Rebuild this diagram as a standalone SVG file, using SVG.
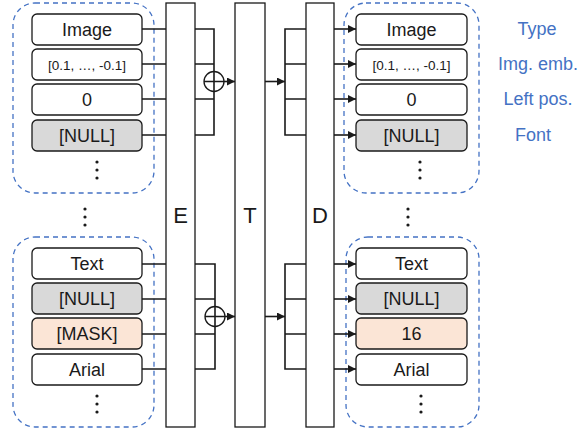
<svg xmlns="http://www.w3.org/2000/svg" width="588" height="431" viewBox="0 0 588 431">
<style>
.bx{stroke:#1a1a1a;stroke-width:1.3;fill:#fff}
.g{fill:#d9d9d9}
.p{fill:#fbe5d6}
.cont{fill:none;stroke:#4472c4;stroke-width:1.3;stroke-dasharray:5 4}
.blk{fill:#fff;stroke:#1a1a1a;stroke-width:1.3}
.ln{fill:none;stroke:#1a1a1a;stroke-width:1.6}
.t{font-family:"Liberation Sans",Arial,sans-serif;font-size:18px;fill:#1a1a1a;text-anchor:middle}
.s{font-size:13.5px}
.big{font-size:22px}
.lab{font-family:"Liberation Sans",Arial,sans-serif;font-size:18px;fill:#4472c4;text-anchor:middle}
.dot{fill:#1a1a1a}
</style>
<defs>
<marker id="ah" viewBox="0 0 10 10" refX="10" refY="5" markerWidth="8" markerHeight="8" markerUnits="userSpaceOnUse" orient="auto">
<path d="M0,0 L10,5 L0,10 z" fill="#1a1a1a"/>
</marker>
<g id="vd"><circle cx="0" cy="0" r="1.6"/><circle cx="0" cy="8" r="1.6"/><circle cx="0" cy="16" r="1.6"/></g>
</defs>

<g id="containers">
<rect class="cont" x="13" y="3" width="141" height="190" rx="22"/>
<rect class="cont" x="13" y="237" width="141" height="190" rx="22"/>
<rect class="cont" x="344" y="3" width="135" height="190" rx="22"/>
<rect class="cont" x="346" y="237" width="133" height="190" rx="22"/>
</g>

<g id="connectors">
<path class="ln" d="M142,29H166M142,64H166M142,99H166M142,135H166"/>
<path class="ln" d="M195,29H214V135H195M195,64H214M195,99H214"/>
<path class="ln" d="M224,81.5H235" marker-end="url(#ah)"/>
<path class="ln" d="M265,81.5H285" marker-end="url(#ah)"/>
<path class="ln" d="M306,29H285V135H306M285,64H306M285,99H306"/>
<path class="ln" d="M334,29H356" marker-end="url(#ah)"/>
<path class="ln" d="M334,64H356" marker-end="url(#ah)"/>
<path class="ln" d="M334,99H356" marker-end="url(#ah)"/>
<path class="ln" d="M334,135H356" marker-end="url(#ah)"/>
<path class="ln" d="M142,264H166M142,299H166M142,334H166M142,369H166"/>
<path class="ln" d="M195,264H215V369H195M195,299H215M195,334H215"/>
<path class="ln" d="M225,316.5H235" marker-end="url(#ah)"/>
<path class="ln" d="M265,316.5H285" marker-end="url(#ah)"/>
<path class="ln" d="M306,264H285V369H306M285,299H306M285,334H306"/>
<path class="ln" d="M334,264H356" marker-end="url(#ah)"/>
<path class="ln" d="M334,299H356" marker-end="url(#ah)"/>
<path class="ln" d="M334,334H356" marker-end="url(#ah)"/>
<path class="ln" d="M334,369H356" marker-end="url(#ah)"/>
</g>

<g id="E"><rect class="blk" x="166" y="3" width="29" height="424"/><text class="t big" x="180.5" y="223">E</text></g>
<g id="T"><rect class="blk" x="235" y="3" width="30" height="424"/><text class="t big" x="250" y="223">T</text></g>
<g id="D"><rect class="blk" x="306" y="3" width="28" height="424"/><text class="t big" x="320" y="223">D</text></g>

<g id="plus1"><circle cx="214" cy="81.5" r="10" fill="#fff" stroke="#1a1a1a" stroke-width="1.3"/><path class="ln" stroke-width="1.3" d="M204,81.5H224M214,71.5V91.5"/></g>
<g id="plus2"><circle cx="215" cy="316.5" r="10" fill="#fff" stroke="#1a1a1a" stroke-width="1.3"/><path class="ln" stroke-width="1.3" d="M205,316.5H225M215,306.5V326.5"/></g>

<g id="in-image"><rect class="bx" x="32" y="14" width="110" height="31" rx="5"/><text class="t" x="87" y="36">Image</text></g>
<g id="in-emb"><rect class="bx" x="32" y="49" width="110" height="31" rx="5"/><text class="t s" x="87" y="69.5">[0.1, …, -0.1]</text></g>
<g id="in-pos"><rect class="bx" x="32" y="84" width="110" height="31" rx="5"/><text class="t" x="87" y="106">0</text></g>
<g id="in-font"><rect class="bx g" x="32" y="120" width="110" height="31" rx="5"/><text class="t" x="87" y="142">[NULL]</text></g>
<g class="dot"><use href="#vd" x="97" y="162"/></g>

<g class="dot"><use href="#vd" x="85" y="209"/><use href="#vd" x="408" y="209"/></g>

<g id="in-text"><rect class="bx" x="32" y="248" width="110" height="31" rx="5"/><text class="t" x="87" y="270">Text</text></g>
<g id="in-null"><rect class="bx g" x="32" y="283" width="110" height="31" rx="5"/><text class="t" x="87" y="305">[NULL]</text></g>
<g id="in-mask"><rect class="bx p" x="32" y="318" width="110" height="31" rx="5"/><text class="t" x="87" y="340">[MASK]</text></g>
<g id="in-arial"><rect class="bx" x="32" y="354" width="110" height="31" rx="5"/><text class="t" x="87" y="376">Arial</text></g>
<g class="dot"><use href="#vd" x="97" y="396"/></g>

<g id="out-image"><rect class="bx" x="356" y="14" width="111" height="31" rx="5"/><text class="t" x="411.5" y="36">Image</text></g>
<g id="out-emb"><rect class="bx" x="356" y="49" width="111" height="31" rx="5"/><text class="t s" x="411.5" y="69.5">[0.1, …, -0.1]</text></g>
<g id="out-pos"><rect class="bx" x="356" y="84" width="111" height="31" rx="5"/><text class="t" x="411.5" y="106">0</text></g>
<g id="out-font"><rect class="bx g" x="356" y="120" width="111" height="31" rx="5"/><text class="t" x="411.5" y="142">[NULL]</text></g>
<g class="dot"><use href="#vd" x="420" y="162"/></g>

<g id="out-text"><rect class="bx" x="356" y="248" width="111" height="31" rx="5"/><text class="t" x="411.5" y="270">Text</text></g>
<g id="out-null"><rect class="bx g" x="356" y="283" width="111" height="31" rx="5"/><text class="t" x="411.5" y="305">[NULL]</text></g>
<g id="out-16"><rect class="bx p" x="356" y="318" width="111" height="31" rx="5"/><text class="t" x="411.5" y="340">16</text></g>
<g id="out-arial"><rect class="bx" x="356" y="354" width="111" height="31" rx="5"/><text class="t" x="411.5" y="376">Arial</text></g>
<g class="dot"><use href="#vd" x="421" y="396"/></g>

<g id="labels">
<text class="lab" x="537" y="35">Type</text>
<text class="lab" x="538" y="70">Img. emb.</text>
<text class="lab" x="538" y="105">Left pos.</text>
<text class="lab" x="533" y="141">Font</text>
</g>
</svg>
